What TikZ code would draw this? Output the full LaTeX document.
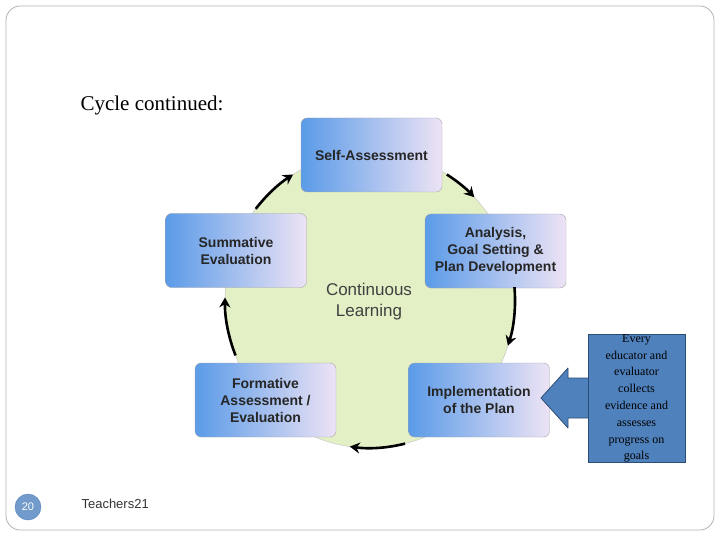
\documentclass[tikz,border=0pt]{standalone}
\usepackage{fontspec}
\setmainfont{Liberation Serif}
\setsansfont{Liberation Sans}
\usetikzlibrary{arrows.meta}
\definecolor{cgreen}{HTML}{E3F0C6}
\definecolor{bleft}{HTML}{5B9BE8}
\definecolor{bmid}{HTML}{9CC6F5}
\definecolor{bright}{HTML}{EDE3F5}
\definecolor{callout}{HTML}{4F81BD}
\definecolor{calloutd}{HTML}{2C4D75}
\begin{document}
\begin{tikzpicture}[x=1pt,y=-1pt,
  stagebox/.style={draw=gray!70,rounded corners=6pt,left color=bleft,middle color=bmid,right color=bright,
    minimum width=141pt,minimum height=74pt,align=center,font=\sffamily\bfseries\fontsize{14}{17}\selectfont,text=black!85},
  cyc/.style={line width=2.6pt,-{Stealth[length=10pt,width=11pt]}}]
\useasboundingbox (0,0) rectangle (720,540);
\draw[gray!60,rounded corners=14pt,line width=0.8pt] (6,6) rectangle (714,530);
\node[anchor=west,font=\fontsize{21}{25}\selectfont] (title) at (77,105) {Cycle continued:};
\coordinate (c) at (370,300);
\fill[cgreen] (c) ellipse (145 and 148);
\draw[gray!50,line width=0.4pt] (c) ellipse (145 and 148);
\node[font=\sffamily\fontsize{17}{21}\selectfont,align=center,text=black!75] (cl) at (369,302) {Continuous\\Learning};
\node[stagebox] (sa) at (371.5,155) {Self-Assessment};
\node[stagebox] (an) at (495.5,251) {Analysis,\\Goal Setting \&\\Plan Development};
\node[stagebox] (su) at (236,250.5) {Summative\\Evaluation};
\node[stagebox] (fo) at (265.5,400) {Formative\\Assessment /\\Evaluation};
\node[stagebox] (im) at (479,400) {Implementation\\of the Plan};
\draw[cyc] (c) ++(-58:145 and 148) arc (-58:-44:145 and 148);
\draw[cyc] (c) ++(-5:145 and 148) arc (-5:18:145 and 148);
\draw[cyc] (c) ++(76:145 and 148) arc (76:98:145 and 148);
\draw[cyc] (c) ++(158:145 and 148) arc (158:181:145 and 148);
\draw[cyc] (c) ++(218:145 and 148) arc (218:238:145 and 148);
\draw[draw=calloutd,fill=callout,line width=0.8pt,line join=round]
  (541,398) -- (568,368) -- (568,378) -- (592,378) -- (592,418) -- (568,418) -- (568,428) -- cycle;
\node[draw=calloutd,fill=callout,line width=0.8pt,minimum width=97pt,minimum height=115pt,
  align=center,inner sep=0pt,font=\fontsize{12}{16.8}\selectfont] (co) at (636.5,398.5)
  {Every\\educator and\\evaluator\\collects\\evidence and\\assesses\\progress on\\goals};
\node[circle,fill=callout!80,draw=callout,minimum size=26pt,inner sep=0pt,font=\sffamily\fontsize{11}{13}\selectfont,text=white] (pg) at (28,507) {20};
\node[anchor=west,font=\sffamily\fontsize{13}{15}\selectfont,text=black!80] (ft) at (78,504) {Teachers21};
\end{tikzpicture}
\end{document}
